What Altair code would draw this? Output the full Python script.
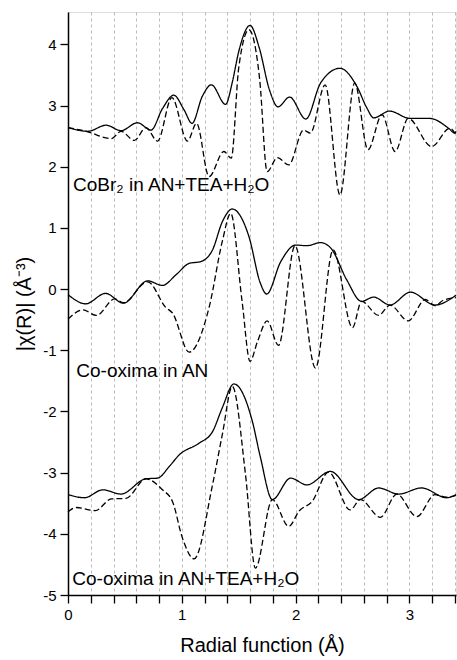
import altair as alt
import pandas as pd

# ---- data ----
top_mag_x = [0, 0.175, 0.335, 0.466, 0.61, 0.73, 0.83, 0.93, 1.02, 1.09, 1.18, 1.26, 1.385, 1.445, 1.50, 1.60, 1.68, 1.77, 1.846, 1.948, 2.09, 2.22, 2.39, 2.54, 2.627, 2.686, 2.826, 3.006, 3.18, 3.345, 3.40, 3.41]
top_mag_y = [2.64, 2.58, 2.68, 2.59, 2.72, 2.60, 2.95, 3.17, 2.93, 2.71, 3.15, 3.34, 3.02, 3.39, 3.88, 4.31, 3.95, 3.26, 2.98, 3.14, 2.78, 3.37, 3.61, 3.31, 2.96, 2.80, 2.91, 2.79, 2.79, 2.63, 2.55, 2.58]

top_im_x = [0, 0.16, 0.38, 0.466, 0.583, 0.685, 0.787, 0.913, 1.05, 1.13, 1.24, 1.37, 1.435, 1.50, 1.59, 1.685, 1.75, 1.84, 1.94, 2.07, 2.13, 2.26, 2.39, 2.52, 2.636, 2.76, 2.875, 2.99, 3.196, 3.356, 3.41]
top_im_y = [2.64, 2.58, 2.46, 2.58, 2.43, 2.64, 2.42, 3.13, 2.42, 2.71, 1.84, 2.25, 2.14, 3.61, 4.24, 3.42, 1.92, 2.15, 2.03, 2.60, 2.55, 3.34, 1.54, 3.37, 2.28, 2.85, 2.25, 2.79, 2.33, 2.63, 2.52]

mid_mag_x = [0, 0.155, 0.33, 0.487, 0.70, 0.83, 0.947, 1.065, 1.166, 1.27, 1.356, 1.444, 1.59, 1.69, 1.746, 1.87, 2.0, 2.10, 2.22, 2.31, 2.45, 2.58, 2.686, 2.83, 3.01, 3.225, 3.41]
mid_mag_y = [-0.09, -0.24, -0.07, -0.23, 0.135, 0.06, 0.23, 0.42, 0.45, 0.64, 1.10, 1.31, 0.86, 0.10, -0.08, 0.45, 0.72, 0.71, 0.76, 0.67, 0.15, -0.20, -0.13, -0.26, -0.05, -0.26, -0.10]

mid_im_x = [0, 0.13, 0.25, 0.41, 0.487, 0.70, 0.86, 0.918, 1.065, 1.24, 1.356, 1.43, 1.53, 1.60, 1.665, 1.75, 1.85, 1.995, 2.175, 2.33, 2.50, 2.58, 2.73, 2.83, 2.99, 3.14, 3.225, 3.30, 3.41]
mid_im_y = [-0.49, -0.34, -0.43, -0.16, -0.22, 0.12, -0.30, -0.39, -1.03, -0.30, 0.78, 1.24, -0.20, -1.18, -0.86, -0.52, -0.92, 0.71, -1.29, 0.64, -0.63, -0.20, -0.43, -0.26, -0.52, -0.17, -0.27, -0.18, -0.14]

bot_mag_x = [0, 0.145, 0.306, 0.466, 0.685, 0.787, 0.89, 0.977, 1.151, 1.27, 1.356, 1.458, 1.62, 1.69, 1.796, 1.956, 2.10, 2.306, 2.555, 2.73, 2.905, 3.108, 3.327, 3.41]
bot_mag_y = [-3.36, -3.41, -3.28, -3.35, -3.10, -3.09, -2.90, -2.71, -2.52, -2.33, -1.94, -1.55, -2.16, -2.74, -3.44, -3.09, -3.20, -2.98, -3.44, -3.25, -3.35, -3.25, -3.41, -3.36]

bot_im_x = [0, 0.073, 0.24, 0.38, 0.51, 0.685, 0.83, 0.918, 1.006, 1.108, 1.27, 1.356, 1.444, 1.56, 1.647, 1.796, 1.94, 2.03, 2.146, 2.29, 2.48, 2.57, 2.745, 2.89, 3.065, 3.225, 3.327, 3.41]
bot_im_y = [-3.64, -3.57, -3.62, -3.43, -3.42, -3.10, -3.28, -3.47, -4.07, -4.41, -3.20, -2.38, -1.59, -3.03, -4.56, -3.44, -3.88, -3.63, -3.47, -2.99, -3.61, -3.44, -3.73, -3.35, -3.72, -3.36, -3.40, -3.37]

label_texts = ["CoBr₂ in AN+TEA+H₂O", "Co-oxima in AN", "Co-oxima in AN+TEA+H₂O"]
label_x = [0.044, 0.073, 0.038]
label_y = [1.61, -1.43, -4.84]

x_ticks = [0, 0.2, 0.4, 0.6, 0.8, 1.0, 1.2, 1.4, 1.6, 1.8, 2.0, 2.2, 2.4, 2.6, 2.8, 3.0, 3.2, 3.4]
y_ticks = [-5, -4, -3, -2, -1, 0, 1, 2, 3, 4]

# ---- build table ----
series = [
    ("top_mag", "mag", top_mag_x, top_mag_y),
    ("top_im", "im", top_im_x, top_im_y),
    ("mid_mag", "mag", mid_mag_x, mid_mag_y),
    ("mid_im", "im", mid_im_x, mid_im_y),
    ("bot_mag", "mag", bot_mag_x, bot_mag_y),
    ("bot_im", "im", bot_im_x, bot_im_y),
]
rows = []
for name, kind, xs, ys in series:
    for i, (xv, yv) in enumerate(zip(xs, ys)):
        rows.append({"series": name, "kind": kind, "x": xv, "y": yv, "i": i})
df = pd.DataFrame(rows)
labels_df = pd.DataFrame({"text": label_texts, "x": label_x, "y": label_y})

FONT = "Liberation Sans"

xscale = alt.Scale(domain=[0, 3.41], nice=False, zero=False)
yscale = alt.Scale(domain=[-5, 4.53], nice=False, zero=False)

lines = alt.Chart(df).mark_line(color="black", strokeWidth=1.3, interpolate="monotone").encode(
    x=alt.X("x:Q", scale=xscale,
            axis=alt.Axis(values=x_ticks, tickCount=40, title="Radial function (Å)",
                          labelExpr="abs(datum.value - round(datum.value)) < 0.001 ? '' + round(datum.value) : ''",
                          labelOverlap=False,
                          grid=True, gridDash=[3, 3], gridColor="#aaaaaa", gridWidth=0.8,
                          tickSize=8, tickWidth=1.3, tickColor="black",
                          domainColor="black", domainWidth=1.5,
                          labelFont=FONT, labelFontSize=15, labelColor="black", labelPadding=4,
                          titleFont=FONT, titleFontSize=20, titleFontWeight="normal",
                          titleColor="black", titlePadding=13, labelFlush=False)),
    y=alt.Y("y:Q", scale=yscale,
            axis=alt.Axis(values=y_ticks, tickCount=40, title="|χ(R)| (Å⁻³)",
                          labelExpr="'' + datum.value",
                          labelOverlap=False,
                          grid=False,
                          tickSize=8, tickWidth=1.3, tickColor="black",
                          domainColor="black", domainWidth=1.5,
                          labelFont=FONT, labelFontSize=15, labelColor="black", labelPadding=4,
                          titleFont=FONT, titleFontSize=20, titleFontWeight="normal",
                          titleColor="black", titlePadding=8, labelFlush=False)),
    detail="series:N",
    order="i:Q",
    strokeDash=alt.StrokeDash("kind:N", scale=alt.Scale(domain=["mag", "im"], range=[[1, 0], [6, 3]]), legend=None),
)

texts = alt.Chart(labels_df).mark_text(align="left", baseline="alphabetic", font=FONT, fontSize=19, color="black").encode(
    x=alt.X("x:Q", scale=xscale),
    y=alt.Y("y:Q", scale=yscale),
    text="text:N",
)

chart = alt.layer(lines, texts).properties(
    width=388, height=583,
    autosize=alt.AutoSizeParams(type="none"),
    padding={"left": 68, "top": 12, "right": 1, "bottom": 65},
).configure_view(stroke="black", strokeWidth=1.5).configure(background="white")

chart.save("out.html", embed_options={"renderer": "svg", "actions": False})
